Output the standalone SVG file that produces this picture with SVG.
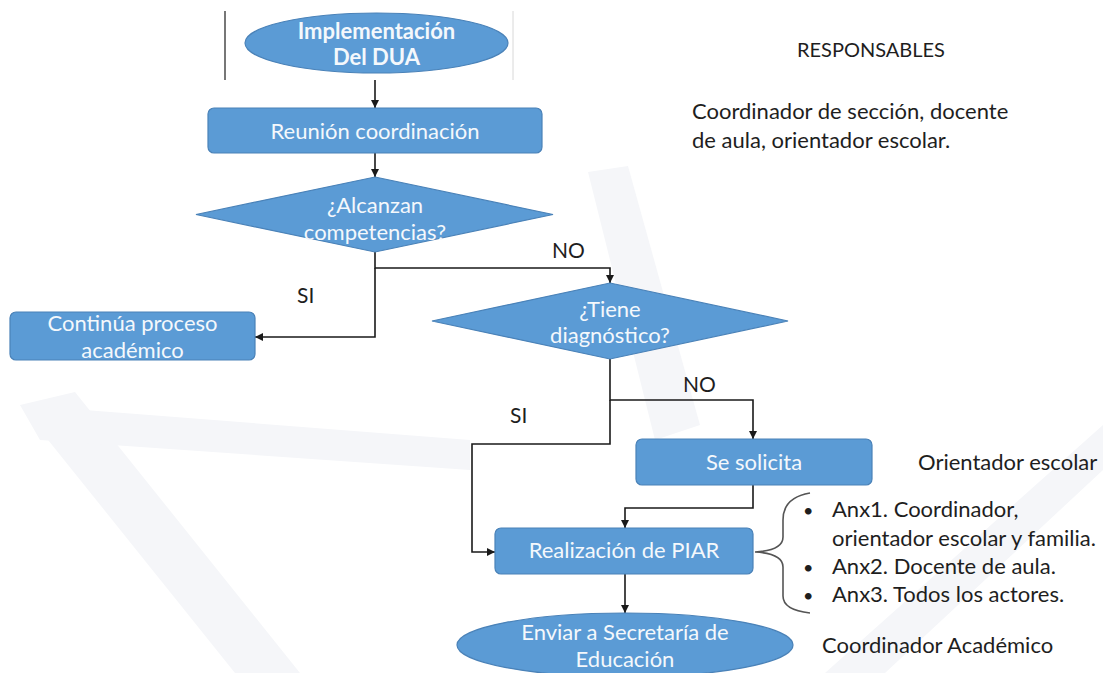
<svg xmlns="http://www.w3.org/2000/svg" width="1103" height="673" viewBox="0 0 1103 673">
<defs>
<marker id="ah" viewBox="0 0 10 10" refX="10" refY="5" markerWidth="8" markerHeight="8" markerUnits="userSpaceOnUse" orient="auto">
<path d="M0,0 L10,5 L0,10 z" fill="#1a1a1a"/>
</marker>
<style>
.shape{fill:#5b9bd5;stroke:#4a82b8;stroke-width:1.2}
.wt{font-family:Lato,"Liberation Sans",sans-serif;font-size:22px;fill:#f4f8fc;text-anchor:middle}
.bt{font-family:Lato,"Liberation Sans",sans-serif;font-size:22px;fill:#1e1e1e}
.hd{font-family:Lato,"Liberation Sans",sans-serif;font-size:20px;fill:#1e1e1e}
.dot{font-family:Lato,"Liberation Sans",sans-serif;font-size:18px;fill:#1e1e1e}
.lb{font-family:Lato,"Liberation Sans",sans-serif;font-size:21px;fill:#1e1e1e}
.con{fill:none;stroke:#1a1a1a;stroke-width:1.6}
.wm{fill:#f5f6f9}
</style>
</defs>
<rect width="1103" height="673" fill="#ffffff"/>
<g id="watermark">
<polygon class="wm" points="588,172 628,166 700,425 655,440"/>
<polygon class="wm" points="20,405 75,392 300,673 235,673"/>
<polygon class="wm" points="20,405 470,440 470,470 40,440"/>
<polygon class="wm" points="1103,425 1103,470 885,673 825,673"/>
</g>
<g id="frame">
<rect x="224" y="11" width="290" height="69" fill="#ffffff"/>
<line x1="225" y1="11" x2="225" y2="80" stroke="#777" stroke-width="2"/>
<line x1="513" y1="11" x2="513" y2="80" stroke="#d8d8d8" stroke-width="1"/>
</g>
<g id="connectors">
<path class="con" d="M375,80 V108" marker-end="url(#ah)"/>
<path class="con" d="M375,153 V177" marker-end="url(#ah)"/>
<path class="con" d="M375,252 V268 H610 V283" marker-end="url(#ah)"/>
<path class="con" d="M375,268 V337 H255" marker-end="url(#ah)"/>
<path class="con" d="M610,359 V400 H753 V439" marker-end="url(#ah)"/>
<path class="con" d="M610,400 V444 H472 V552 H495" marker-end="url(#ah)"/>
<path class="con" d="M753,485 V508 H625 V528" marker-end="url(#ah)"/>
<path class="con" d="M625,574 V613" marker-end="url(#ah)"/>
</g>
<g id="n-start">
<ellipse class="shape" cx="376.5" cy="43" rx="131.5" ry="30"/>
<text class="wt" x="376.5" y="39" font-weight="bold">Implementación</text>
<text class="wt" x="376.5" y="65" font-weight="bold">Del DUA</text>
</g>
<g id="n-reunion">
<rect class="shape" x="208" y="108" width="334" height="45" rx="6"/>
<text class="wt" x="375" y="139">Reunión coordinación</text>
</g>
<g id="n-alcanzan">
<polygon class="shape" points="375,177 553,214.5 375,252 196,214.5"/>
<text class="wt" x="375" y="213">¿Alcanzan</text>
<text class="wt" x="375" y="240">competencias?</text>
</g>
<g id="n-continua">
<rect class="shape" x="10" y="312" width="245" height="48" rx="6"/>
<text class="wt" x="132.5" y="331">Continúa proceso</text>
<text class="wt" x="132.5" y="358">académico</text>
</g>
<g id="n-tiene">
<polygon class="shape" points="610,283 788,321 610,359 432,321"/>
<text class="wt" x="610" y="317">¿Tiene</text>
<text class="wt" x="610" y="343">diagnóstico?</text>
</g>
<g id="n-solicita">
<rect class="shape" x="636" y="439" width="236" height="46" rx="6"/>
<text class="wt" x="754" y="470">Se solicita</text>
</g>
<g id="n-piar">
<rect class="shape" x="495" y="528" width="258" height="46" rx="6"/>
<text class="wt" x="624" y="558">Realización de PIAR</text>
</g>
<g id="n-enviar">
<ellipse class="shape" cx="625" cy="645" rx="168" ry="32"/>
<text class="wt" x="625" y="640">Enviar a Secretaría de</text>
<text class="wt" x="625" y="667">Educación</text>
</g>
<g id="labels">
<text class="lb" x="552" y="258">NO</text>
<text class="lb" x="297" y="303">SI</text>
<text class="lb" x="683" y="392">NO</text>
<text class="lb" x="510" y="423">SI</text>
</g>
<g id="responsables">
<text class="hd" x="797" y="57">RESPONSABLES</text>
<text class="bt" x="692" y="119">Coordinador de sección, docente</text>
<text class="bt" x="692" y="148">de aula, orientador escolar.</text>
<text class="bt" x="918" y="470">Orientador escolar</text>
<text class="bt" x="822" y="653">Coordinador Académico</text>
</g>
<g id="anexos">
<path d="M810,493 C792,496 783,505 783,520 L783,537 C783,546 773,551 755,552 C773,553 783,558 783,567 L783,596 C783,606 792,611 810,613" fill="none" stroke="#555" stroke-width="1.6"/>
<text class="dot" x="803" y="517">•</text>
<text class="bt" x="832" y="517">Anx1. Coordinador,</text>
<text class="bt" x="832" y="546">orientador escolar y familia.</text>
<text class="dot" x="803" y="574">•</text>
<text class="bt" x="832" y="574">Anx2. Docente de aula.</text>
<text class="dot" x="803" y="602">•</text>
<text class="bt" x="832" y="602">Anx3. Todos los actores.</text>
</g>
</svg>
